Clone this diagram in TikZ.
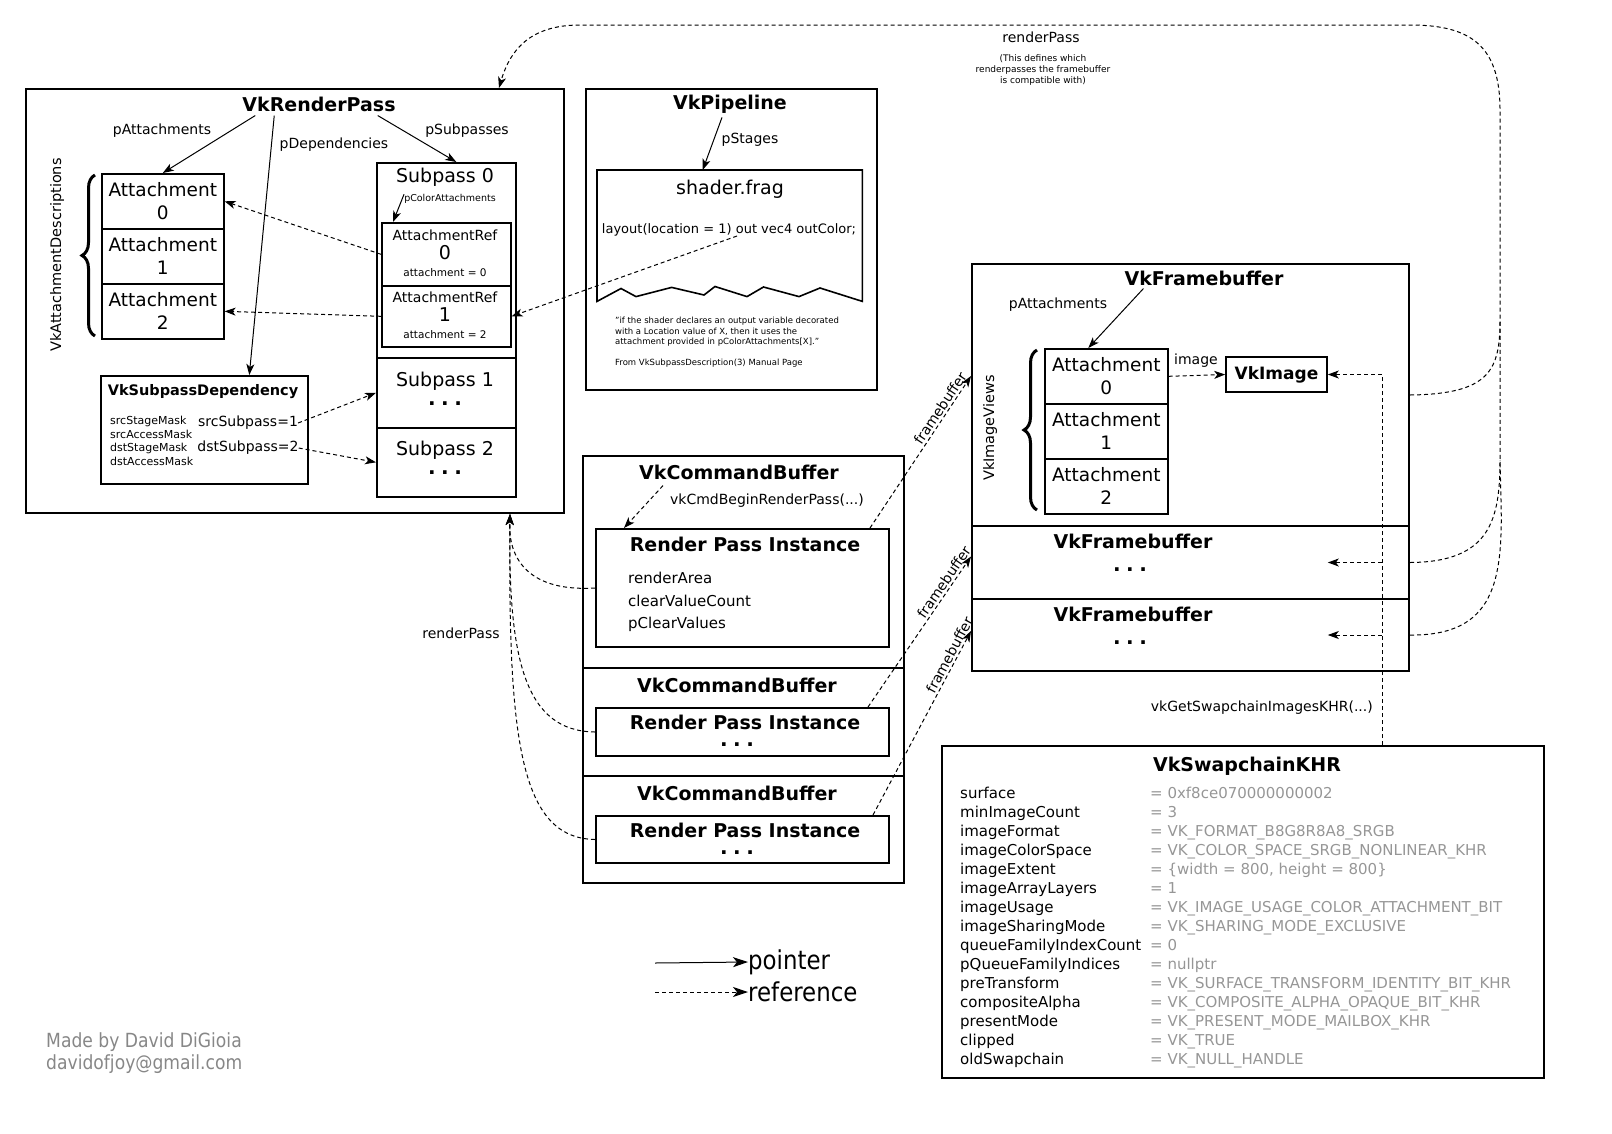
\documentclass[tikz,border=0pt]{standalone}
\usepackage{fontspec}
\setmainfont{DejaVu Sans}
\newfontfamily\condfont{DejaVu Sans}[FakeStretch=0.88]
\usetikzlibrary{arrows.meta,positioning,decorations.pathreplacing}
\definecolor{valgray}{RGB}{150,150,150}
\definecolor{signgray}{RGB}{135,135,135}
\tikzset{
    %Define standard arrow tip
    >={Stealth[length=11pt,width=8pt,inset=3pt]},
    %Define style for boxes
    outerbox/.style={
           rectangle,
           draw=black, line width=2pt,
           inner sep=0pt,
           anchor=north west,
           },
    innerbox/.style={
           rectangle,
           draw=black, line width=1.6pt,
           inner sep=0pt,
           anchor=north west,
           align=center,
           font=\fontsize{18.5}{23}\selectfont,
           },
    % Define text styles
    heading/.style={font=\fontsize{19}{22}\selectfont\bfseries, inner sep=0pt},
    big/.style={font=\fontsize{19}{22}\selectfont, inner sep=0pt},
    lbl/.style={font=\fontsize{14}{16}\selectfont, inner sep=0pt},
    note/.style={font=\fontsize{9}{11}\selectfont, inner sep=0pt, align=center},
    field/.style={font=\fontsize{15}{19}\selectfont, inner sep=0pt},
    dots/.style={font=\fontsize{20}{22}\selectfont\bfseries, inner sep=0pt},
    % Define arrow styles
    ptr/.style={->, line width=1pt},
    refr/.style={->, line width=1pt, dash pattern=on 4pt off 3pt},
    refline/.style={line width=1pt, dash pattern=on 4pt off 3pt},
    bracket/.style={line width=3pt, decorate, decoration={brace, amplitude=13pt}},
}
\newcommand{\threedots}{.\hspace{5.5pt}.\hspace{5.5pt}.}
\begin{document}
\begin{tikzpicture}[x=1pt,y=-1pt]
\useasboundingbox (0,0) rectangle (1612,1133);

% VkRenderPass
\node[outerbox, minimum width=538, minimum height=424] (rp) at (25,88) {};
\node[heading] (rpt) at (319,104) {VkRenderPass};
\node[lbl] (rpatt) at (162,131) {pAttachments};
\node[lbl] (rpdep) at (334,145) {pDependencies};
\node[lbl] (rpsub) at (467,131) {pSubpasses};
\node[innerbox, minimum width=122, minimum height=55] (att0) at (101,173) {Attachment\\0};
\node[innerbox, minimum width=122, minimum height=55] (att1) at (101,228) {Attachment\\1};
\node[innerbox, minimum width=122, minimum height=55] (att2) at (101,283) {Attachment\\2};
\draw[bracket] (95,336) -- (95,175);
\node[lbl, font=\fontsize{14.5}{16}\selectfont, rotate=90] (attdesc) at (57,255) {VkAttachmentDescriptions};

\node[innerbox, minimum width=139, minimum height=195] (sp0) at (376,162) {};
\node[innerbox, minimum width=139, minimum height=70] (sp1) at (376,357) {};
\node[innerbox, minimum width=139, minimum height=69] (sp2) at (376,427) {};
\node[big] (sp0t) at (445,177) {Subpass 0};
\node[big] (sp1t) at (445,381) {Subpass 1};
\node[dots] (sp1d) at (445,404) {\threedots};
\node[big] (sp2t) at (445,450) {Subpass 2};
\node[dots] (sp2d) at (445,473) {\threedots};
\node[note, font=\fontsize{9.5}{11}\selectfont] (pcol) at (450,199) {pColorAttachments};
\node[innerbox, minimum width=129, minimum height=63] (ar0) at (381,222) {};
\node[innerbox, minimum width=129, minimum height=61] (ar1) at (381,285) {};
\node[lbl] (ar0a) at (445,235) {AttachmentRef};
\node[big] (ar0b) at (445,253) {0};
\node[note, font=\fontsize{10.5}{12}\selectfont] (ar0c) at (445,273) {attachment = 0};
\node[lbl] (ar1a) at (445,297) {AttachmentRef};
\node[big] (ar1b) at (445,315) {1};
\node[note, font=\fontsize{10.5}{12}\selectfont] (ar1c) at (445,335) {attachment = 2};

\node[innerbox, minimum width=207, minimum height=108] (dep) at (100,375) {};
\node[heading, font=\fontsize{14.5}{16}\selectfont\bfseries] (dept) at (203,392) {VkSubpassDependency};
\node[font=\fontsize{11}{13.7}\selectfont, inner sep=0pt, align=left, anchor=north west] (masks) at (110,416)
    {srcStageMask\\srcAccessMask\\dstStageMask\\dstAccessMask};
\node[lbl] (src) at (248,423) {srcSubpass=1};
\node[lbl] (dst) at (248,448) {dstSubpass=2};

\draw[ptr] ([xshift=13,yshift=-4]rpt.south west) -- (att0.north);
\draw[ptr] ([xshift=32,yshift=-4]rpt.south west) -- ([xshift=45]dep.north);
\draw[ptr] ([xshift=-18,yshift=-4]rpt.south east) -- ([xshift=10]sp0.north);
\draw[ptr] (pcol.north west) -- ([xshift=12]ar0.north west);
\draw[refr] (ar0.west) -- (att0.east);
\draw[refr] (ar1.west) -- (att2.east);
\draw[refr] (src.east) -- (sp1.west);
\draw[refr] (dst.east) -- (sp2.west);

% VkPipeline
\node[outerbox, minimum width=291, minimum height=301] (pl) at (585,88) {};
\node[heading] (plt) at (730,104) {VkPipeline};
\node[lbl] (plstg) at (750,140) {pStages};
\node[inner sep=0pt, anchor=north west, minimum width=265, minimum height=131] (shader) at (597,170) {};
\draw[line width=1.6pt] (shader.south west) -- (shader.north west) -- (shader.north east) -- (shader.south east)
    -- (820,288) -- (799,296.6) -- (763.5,287) -- (747,296.6) -- (715,286.5) -- (704,295)
    -- (671.6,287.4) -- (636,296.6) -- (621,288.5) -- cycle;
\node[big] (shname) at (730,189) {shader.frag};
\node[font=\fontsize{13}{15}\selectfont, inner sep=0pt] (loc) at (729,230) {layout(location = 1) out vec4 outColor;};
\coordinate (loc1) at (737,236);
\node[font=\fontsize{8.5}{10.5}\selectfont, inner sep=0pt, align=left, anchor=north west] (quote) at (615,317)
    {"if the shader declares an output variable decorated\\with a Location value of X, then it uses the\\attachment provided in pColorAttachments[X]."\\[10.5pt]From VkSubpassDescription(3) Manual Page};
\draw[ptr] ([xshift=-8,yshift=-4]plt.south) -- ([xshift=-27]shader.north);
\draw[refr] (loc1) -- (ar1.east);

% VkFramebuffer
\node[outerbox, minimum width=437, minimum height=262] (fb0) at (971,263) {};
\node[outerbox, minimum width=437, minimum height=73] (fb1) at (971,525) {};
\node[outerbox, minimum width=437, minimum height=72] (fb2) at (971,598) {};
\node[heading] (fbt) at (1204,278) {VkFramebuffer};
\node[lbl] (fbatt) at (1058,305) {pAttachments};
\node[innerbox, minimum width=123, minimum height=55] (fa0) at (1044,348) {Attachment\\0};
\node[innerbox, minimum width=123, minimum height=55] (fa1) at (1044,403) {Attachment\\1};
\node[innerbox, minimum width=123, minimum height=55] (fa2) at (1044,458) {Attachment\\2};
\draw[bracket] (1037,510) -- (1037,350);
\node[lbl, font=\fontsize{14.5}{16}\selectfont, rotate=90] (fbviews) at (990,428) {VkImageViews};
\node[draw, line width=1.6pt, minimum width=101, minimum height=35, inner sep=0pt,
      font=\fontsize{17}{20}\selectfont\bfseries] (vki) at (1276.5,374.5) {VkImage};
\node[lbl] (imglbl) at (1196,361) {image};
\draw[ptr] ([xshift=19,yshift=-3]fbt.south west) -- ([xshift=-18]fa0.north);
\draw[refr] (fa0.east) -- (vki.west);
\node[heading] (fbt1) at (1133,541) {VkFramebuffer};
\node[dots] (fbd1) at (1130,570) {\threedots};
\node[heading] (fbt2) at (1133,614) {VkFramebuffer};
\node[dots] (fbd2) at (1130,643) {\threedots};

% renderPass of the framebuffers
\node[lbl] (fbrp) at (1041,37) {renderPass};
\node[note] (fbrpnote) at (1043,70) {(This defines which\\renderpasses the framebuffer\\is compatible with)};
\coordinate (rpjoin) at (1500,320);
\draw[refr] (fb0.east) .. controls (1490,394) and (1500,370) .. (rpjoin) -- (1500,110)
    .. controls (1500,45) and (1470,25) .. (1410,25) -- (580,25)
    .. controls (530,25) and (510,50) .. ([xshift=-66]rp.north east);
\draw[refline] (fb1.east) .. controls (1490,562) and (1500,520) .. (1500,460) -- (rpjoin);
\draw[refline] (fb2.east) .. controls (1495,636) and (1503,580) .. (1501,500) -- (1500,460);

% VkCommandBuffer
\node[outerbox, minimum width=321, minimum height=212] (cb0) at (582,455) {};
\node[outerbox, minimum width=321, minimum height=108] (cb1) at (582,667) {};
\node[outerbox, minimum width=321, minimum height=107] (cb2) at (582,775) {};
\node[heading] (cbt0) at (739,472) {VkCommandBuffer};
\node[heading] (cbt1) at (737,685) {VkCommandBuffer};
\node[heading] (cbt2) at (737,793) {VkCommandBuffer};
\node[outerbox, minimum width=293, minimum height=118] (rpi0) at (595,528) {};
\node[outerbox, minimum width=293, minimum height=48] (rpi1) at (595,707) {};
\node[outerbox, minimum width=293, minimum height=47] (rpi2) at (595,815) {};
\node[heading] (rpit0) at (745,544) {Render Pass Instance};
\node[heading] (rpit1) at (745,722) {Render Pass Instance};
\node[dots] (rpid1) at (737,745) {\threedots};
\node[heading] (rpit2) at (745,830) {Render Pass Instance};
\node[dots] (rpid2) at (737,853) {\threedots};
\node[font=\fontsize{15}{22.5}\selectfont, inner sep=0pt, align=left, anchor=north west] (rpiitems) at (628,572)
    {renderArea\\clearValueCount\\pClearValues};
\node[lbl] (cmdbegin) at (767,501) {vkCmdBeginRenderPass(...)};
\draw[refr] ([xshift=24,yshift=-6]cbt0.south west) -- ([xshift=29]rpi0.north west);

\node[lbl] (cbrp) at (461,633) {renderPass};
\draw[refr] (rpi0.west) .. controls (530,592) and (508,560) .. ([xshift=-55]rp.south east);
\draw[refr] (rpi1.west) .. controls (525,731) and (508,660) .. ([xshift=-55]rp.south east);
\draw[refr] (rpi2.west) .. controls (520,838) and (508,740) .. ([xshift=-55]rp.south east);

\draw[refr] ([xshift=-20]rpi0.north east) -- node[lbl, sloped, above=2pt, pos=0.76] (fbl0) {framebuffer} ([yshift=19]fb0.west);
\draw[refr] ([xshift=-22]rpi1.north east) -- node[lbl, sloped, above=2pt, pos=0.8] (fbl1) {framebuffer} ([yshift=6]fb1.west);
\draw[refr] ([xshift=-17]rpi2.north east) -- node[lbl, sloped, above=2pt, pos=0.85] (fbl2) {framebuffer} ([yshift=4]fb2.west);

% VkSwapchainKHR
\node[outerbox, minimum width=602, minimum height=332] (sc) at (941,745) {};
\node[heading] (sct) at (1247,766) {VkSwapchainKHR};
\foreach \k/\v [count=\i] in {surface/0xf8ce070000000002, minImageCount/3,
    imageFormat/VK\_FORMAT\_B8G8R8A8\_SRGB, imageColorSpace/VK\_COLOR\_SPACE\_SRGB\_NONLINEAR\_KHR,
    imageExtent/{\{width = 800, height = 800\}}, imageArrayLayers/1,
    imageUsage/VK\_IMAGE\_USAGE\_COLOR\_ATTACHMENT\_BIT, imageSharingMode/VK\_SHARING\_MODE\_EXCLUSIVE,
    queueFamilyIndexCount/0, pQueueFamilyIndices/nullptr,
    preTransform/VK\_SURFACE\_TRANSFORM\_IDENTITY\_BIT\_KHR, compositeAlpha/VK\_COMPOSITE\_ALPHA\_OPAQUE\_BIT\_KHR,
    presentMode/VK\_PRESENT\_MODE\_MAILBOX\_KHR, clipped/VK\_TRUE, oldSwapchain/VK\_NULL\_HANDLE}{
  \node[field, anchor=base west] (k\i) at (960,{798+19*(\i-1)}) {\k};
  \node[field, text=valgray, anchor=base west] (v\i) at (1150,{798+19*(\i-1)}) {= \v};
}
\coordinate (tap) at (1382,745);
\draw[refr] (tap) |- (vki.east);
\draw[refr] (tap |- fb1.east) -- (vki.east |- fb1.east);
\draw[refr] (tap |- fb2.east) -- (vki.east |- fb2.east);
\node[lbl, anchor=east] (getimg) at (1373,708) {vkGetSwapchainImagesKHR(...)};

% legend
\coordinate (lgp) at (655,963);
\coordinate (lgr) at (655,992);
\node[font=\condfont\fontsize{26}{28}\selectfont, inner sep=0pt, anchor=west] (lgptr) at (748,962) {pointer};
\node[font=\condfont\fontsize{26}{28}\selectfont, inner sep=0pt, anchor=west] (lgref) at (748,992) {reference};
\draw[ptr, >={Stealth[length=15pt,width=10pt,inset=4pt]}] (lgp) -- (lgptr.west);
\draw[refr, >={Stealth[length=15pt,width=10pt,inset=4pt]}] (lgr) -- (lgref.west);

\node[font=\condfont\fontsize{19.5}{22}\selectfont, text=signgray, inner sep=0pt, align=left, anchor=north west] (sig) at (46,1032)
    {Made by David DiGioia\\davidofjoy@gmail.com};
\end{tikzpicture}
\end{document}
